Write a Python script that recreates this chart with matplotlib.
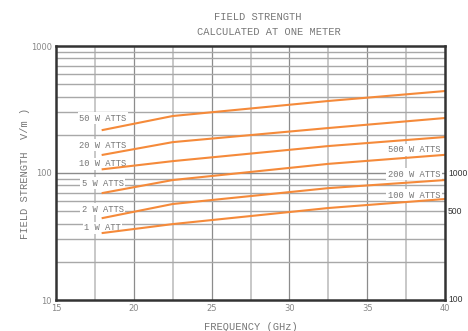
import numpy as np
import matplotlib.pyplot as plt
from matplotlib.ticker import FixedLocator, NullFormatter

freq = [18, 22.5, 32.5, 40]
watts_1 = [33.7, 39.6, 53, 62.4]
watts_2 = [44.2, 57, 76, 88]
watts_5 = [69.6, 88, 118, 139]
watts_10 = [107, 124, 163, 192]
watts_20 = [139, 175, 226, 271]
watts_50 = [218, 281, 369, 442]

left_labels = ['50 W ATTS', '20 W ATTS', '10 W ATTS', '5 W ATTS', '2 W ATTS', '1 W ATT']
left_label_y = [271, 166, 118, 83, 52, 37]
right_labels = ['500 W ATTS', '200 W ATTS', '100 W ATTS']
right_label_y = [152, 98, 67]
right_ticks = [1000, 500, 100]

orange = '#f58a3a'
mono = 'Liberation Mono'
txt_gray = '#777777'

fig = plt.figure(figsize=(4.68, 3.31), dpi=100)
ax = fig.add_axes([56/468, 1 - 300/331, 389/468, 254/331])

ax.set_yscale('log')
ax.set_xlim(15, 40)
ax.set_ylim(10, 1000)

# grid
for xv in np.arange(17.5, 40, 5):
    ax.axvline(xv, color='#c4c4c4', lw=1.3, zorder=1)
for xv in np.arange(20, 40, 5):
    ax.axvline(xv, color='#8c8c8c', lw=0.9, zorder=1)
for dec in [10, 100]:
    for m in range(2, 10):
        ax.axhline(dec * m, color='#a8a8a8', lw=1.0, zorder=1)
ax.axhline(100, color='#8c8c8c', lw=1.0, zorder=1)

for series in [watts_1, watts_2, watts_5, watts_10, watts_20, watts_50]:
    ax.plot(freq, series, color=orange, lw=1.5, zorder=3)

for lab, yv in zip(left_labels, left_label_y):
    ax.text(18.0, yv, lab, ha='center', va='center', fontsize=6.3, family=mono,
            color=txt_gray, zorder=2,
            bbox=dict(facecolor='white', edgecolor='none', pad=1.0))
for lab, yv in zip(right_labels, right_label_y):
    ax.text(38.0, yv, lab, ha='center', va='center', fontsize=6.3, family=mono,
            color=txt_gray, zorder=2,
            bbox=dict(facecolor='white', edgecolor='none', pad=1.0))

ax.yaxis.set_major_locator(FixedLocator([10, 100, 1000]))
ax.yaxis.set_minor_formatter(NullFormatter())
ax.set_yticklabels(['10', '100', '1000'])
ax.set_xticks([15, 20, 25, 30, 35, 40])
ax.tick_params(axis='both', which='both', length=0, labelsize=6,
               labelcolor='#888888', pad=3)

for sp in ax.spines.values():
    sp.set_color('#333333')
    sp.set_linewidth(1.8)
    sp.set_zorder(4)

# right-hand scale
for val in right_ticks:
    ax.text(1.008, val / 10, str(val), transform=ax.get_yaxis_transform(),
            ha='left', va='center', fontsize=6.2, family='Liberation Sans',
            color='#333333')

ax.set_xlabel('FREQUENCY (GHz)', family=mono, fontsize=7.5, color=txt_gray, labelpad=6)
ax.set_ylabel('FIELD STRENGTH  V/m )', family=mono, fontsize=7.5, color=txt_gray)
ax.yaxis.set_label_coords((30 - 56) / 389, 0.5)

fig.text(258/468, 1 - 17/331, 'FIELD STRENGTH', ha='center', va='center',
         family=mono, fontsize=7.5, color=txt_gray)
fig.text(269/468, 1 - 32/331, 'CALCULATED AT ONE METER', ha='center', va='center',
         family=mono, fontsize=7.5, color=txt_gray)

fig.savefig('out.png', dpi=100)
